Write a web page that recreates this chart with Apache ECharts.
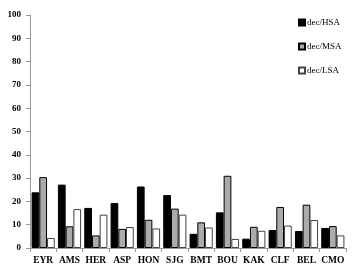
<!DOCTYPE html>
<html><head><meta charset="utf-8">
<script src="https://cdn.jsdelivr.net/npm/echarts@6/dist/echarts.min.js"></script>
<style>html,body{margin:0;padding:0;background:#fff}#c{width:354px;height:273px}</style>
</head><body><div id="c"></div>
<script>
var categories = ['EYR','AMS','HER','ASP','HON','SJG','BMT','BOU','KAK','CLF','BEL','CMO'];
var seriesNames = ['dec/HSA','dec/MSA','dec/LSA'];
var hsa = [23.9, 27.2, 17.2, 19.3, 26.4, 22.7, 6.1, 15.3, 4.0, 7.7, 7.3, 8.6];
var msa = [30.4, 9.3, 5.4, 8.2, 12.1, 16.9, 11.0, 31.0, 9.1, 17.6, 18.6, 9.4];
var lsa = [4.3, 16.7, 14.3, 9.0, 8.4, 14.3, 8.8, 3.9, 7.4, 9.6, 12.0, 5.4];
var yTicks = [0,10,20,30,40,50,60,70,80,90,100];

var font = '"Liberation Serif","Times New Roman",serif';
var chart = echarts.init(document.getElementById('c'), null, {renderer:'canvas'});
chart.setOption({
  animation:false,
  backgroundColor:'#fff',
  grid:{left:30, right:8, top:15, bottom:25, containLabel:false},
  legend:{
    orient:'vertical', left:293, top:13, itemWidth:6, itemHeight:6, itemGap:15,
    icon:'rect',
    textStyle:{fontFamily:font, fontSize:9, color:'#000', padding:[0,0,0,-3]},
    data:seriesNames
  },
  xAxis:{
    type:'category', data:categories,
    axisLine:{lineStyle:{color:'#999', width:1}},
    axisTick:{show:true, alignWithLabel:false, length:4, lineStyle:{color:'#999'}},
    axisLabel:{fontFamily:font, fontWeight:'bold', fontSize:9.5, color:'#000', margin:8, interval:0}
  },
  yAxis:{
    type:'value', min:yTicks[0], max:yTicks[yTicks.length-1], interval:10,
    splitLine:{show:false},
    axisLine:{show:true, lineStyle:{color:'#999', width:1}},
    axisTick:{show:true, length:4, lineStyle:{color:'#999'}},
    axisLabel:{fontFamily:font, fontWeight:'bold', fontSize:9, color:'#000', margin:9}
  },
  series:[
    {name:seriesNames[0], type:'bar', data:hsa, barGap:'0%', barCategoryGap:'12%',
     itemStyle:{color:'#000', borderColor:'#000', borderWidth:1}},
    {name:seriesNames[1], type:'bar', data:msa, barGap:'0%', barCategoryGap:'12%',
     itemStyle:{color:'#ababab', borderColor:'#000', borderWidth:1}},
    {name:seriesNames[2], type:'bar', data:lsa, barGap:'0%', barCategoryGap:'12%',
     itemStyle:{color:'#fff', borderColor:'#444', borderWidth:1}}
  ]
});
</script></body></html>
